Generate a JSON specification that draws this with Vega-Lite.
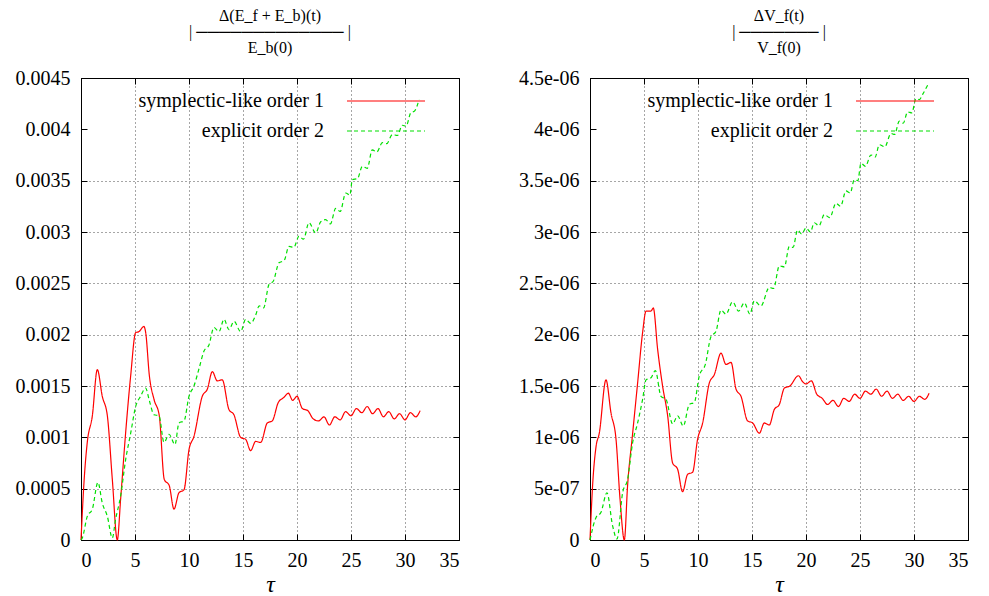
{
  "$schema": "https://vega.github.io/schema/vega-lite/v6.json",
  "background": "white",
  "padding": {"left": 14, "top": 7, "right": 10, "bottom": 0},
  "spacing": 131,
  "bounds": "flush",
  "config": {
    "font": "Liberation Serif",
    "view": {"stroke": "black", "strokeWidth": 1},
    "axis": {
      "domainColor": "black", "tickColor": "black", "tickSize": -6, "tickWidth": 1,
      "labelFont": "Liberation Serif", "labelFontSize": 20, "labelColor": "black",
      "titleFont": "Liberation Serif", "titleFontSize": 24, "titleFontStyle": "italic", "titleFontWeight": "normal", "titleColor": "black",
      "gridColor": "black", "gridDash": [1, 3], "gridWidth": 1
    },
    "legend": {
      "orient": "none", "legendX": 294, "legendY": 12, "padding": 0,
      "symbolType": "M-3.9,0H3.9", "symbolSize": 400, "symbolStrokeWidth": 1.2,
      "labelAlign": "right", "labelOffset": -73, "labelFont": "Liberation Serif", "labelFontSize": 20,
      "labelColor": "black", "labelLimit": 0, "rowPadding": 9, "title": null
    },
    "title": {"font": "Liberation Serif", "fontSize": 16, "fontWeight": "normal", "color": "black", "anchor": "middle", "frame": "group", "lineHeight": 16, "offset": 12}
  },
  "resolve": {"legend": {"color": "independent", "strokeDash": "independent"}, "scale": {"y": "independent"}},
  "datasets": {
    "left": [
      {"series": "symplectic-like order 1", "t": 0, "v": 0},
      {"series": "symplectic-like order 1", "t": 0.3, "v": 0.0006},
      {"series": "symplectic-like order 1", "t": 0.58, "v": 0.00095},
      {"series": "symplectic-like order 1", "t": 1.05, "v": 0.00121},
      {"series": "symplectic-like order 1", "t": 1.51, "v": 0.00166},
      {"series": "symplectic-like order 1", "t": 1.97, "v": 0.0014},
      {"series": "symplectic-like order 1", "t": 2.44, "v": 0.00121},
      {"series": "symplectic-like order 1", "t": 2.9, "v": 0.00059},
      {"series": "symplectic-like order 1", "t": 3.36, "v": 0},
      {"series": "symplectic-like order 1", "t": 3.67, "v": 0.0004},
      {"series": "symplectic-like order 1", "t": 4.13, "v": 0.00104},
      {"series": "symplectic-like order 1", "t": 4.6, "v": 0.0016},
      {"series": "symplectic-like order 1", "t": 5.06, "v": 0.00202},
      {"series": "symplectic-like order 1", "t": 5.37, "v": 0.00203},
      {"series": "symplectic-like order 1", "t": 5.83, "v": 0.00208},
      {"series": "symplectic-like order 1", "t": 5.99, "v": 0.00202},
      {"series": "symplectic-like order 1", "t": 6.33, "v": 0.0016},
      {"series": "symplectic-like order 1", "t": 6.76, "v": 0.00137},
      {"series": "symplectic-like order 1", "t": 7.25, "v": 0.00121},
      {"series": "symplectic-like order 1", "t": 7.71, "v": 0.00059},
      {"series": "symplectic-like order 1", "t": 8.17, "v": 0.00053},
      {"series": "symplectic-like order 1", "t": 8.61, "v": 0.0003},
      {"series": "symplectic-like order 1", "t": 9.07, "v": 0.00046},
      {"series": "symplectic-like order 1", "t": 9.54, "v": 0.00049},
      {"series": "symplectic-like order 1", "t": 10.0, "v": 0.00088},
      {"series": "symplectic-like order 1", "t": 10.46, "v": 0.00101},
      {"series": "symplectic-like order 1", "t": 11.23, "v": 0.0014},
      {"series": "symplectic-like order 1", "t": 11.7, "v": 0.00147},
      {"series": "symplectic-like order 1", "t": 12.16, "v": 0.00164},
      {"series": "symplectic-like order 1", "t": 12.62, "v": 0.00155},
      {"series": "symplectic-like order 1", "t": 13.08, "v": 0.00156},
      {"series": "symplectic-like order 1", "t": 13.7, "v": 0.00127},
      {"series": "symplectic-like order 1", "t": 14.16, "v": 0.00122},
      {"series": "symplectic-like order 1", "t": 14.78, "v": 0.001},
      {"series": "symplectic-like order 1", "t": 15.25, "v": 0.00098},
      {"series": "symplectic-like order 1", "t": 15.71, "v": 0.00087},
      {"series": "symplectic-like order 1", "t": 16.17, "v": 0.00096},
      {"series": "symplectic-like order 1", "t": 16.64, "v": 0.00095},
      {"series": "symplectic-like order 1", "t": 17.25, "v": 0.00114},
      {"series": "symplectic-like order 1", "t": 17.71, "v": 0.00116},
      {"series": "symplectic-like order 1", "t": 18.27, "v": 0.00134},
      {"series": "symplectic-like order 1", "t": 18.8, "v": 0.00139},
      {"series": "symplectic-like order 1", "t": 19.2, "v": 0.00143},
      {"series": "symplectic-like order 1", "t": 19.6, "v": 0.00136},
      {"series": "symplectic-like order 1", "t": 20.0, "v": 0.0014},
      {"series": "symplectic-like order 1", "t": 20.5, "v": 0.00128},
      {"series": "symplectic-like order 1", "t": 21.0, "v": 0.00126},
      {"series": "symplectic-like order 1", "t": 21.5, "v": 0.00118},
      {"series": "symplectic-like order 1", "t": 22.0, "v": 0.00116},
      {"series": "symplectic-like order 1", "t": 22.5, "v": 0.0012},
      {"series": "symplectic-like order 1", "t": 23.0, "v": 0.00112},
      {"series": "symplectic-like order 1", "t": 23.5, "v": 0.0012},
      {"series": "symplectic-like order 1", "t": 24.0, "v": 0.00117},
      {"series": "symplectic-like order 1", "t": 24.5, "v": 0.00125},
      {"series": "symplectic-like order 1", "t": 25.0, "v": 0.00121},
      {"series": "symplectic-like order 1", "t": 25.5, "v": 0.00128},
      {"series": "symplectic-like order 1", "t": 26.0, "v": 0.00124},
      {"series": "symplectic-like order 1", "t": 26.5, "v": 0.0013},
      {"series": "symplectic-like order 1", "t": 27.0, "v": 0.00123},
      {"series": "symplectic-like order 1", "t": 27.5, "v": 0.00128},
      {"series": "symplectic-like order 1", "t": 28.0, "v": 0.0012},
      {"series": "symplectic-like order 1", "t": 28.5, "v": 0.00125},
      {"series": "symplectic-like order 1", "t": 29.0, "v": 0.00118},
      {"series": "symplectic-like order 1", "t": 29.5, "v": 0.00123},
      {"series": "symplectic-like order 1", "t": 30.0, "v": 0.00117},
      {"series": "symplectic-like order 1", "t": 30.5, "v": 0.00124},
      {"series": "symplectic-like order 1", "t": 31.0, "v": 0.0012},
      {"series": "symplectic-like order 1", "t": 31.4, "v": 0.00126},
      {"series": "explicit order 2", "t": 0, "v": 0},
      {"series": "explicit order 2", "t": 0.12, "v": 0.00002},
      {"series": "explicit order 2", "t": 0.58, "v": 0.00023},
      {"series": "explicit order 2", "t": 1.05, "v": 0.0003},
      {"series": "explicit order 2", "t": 1.57, "v": 0.00056},
      {"series": "explicit order 2", "t": 1.97, "v": 0.00036},
      {"series": "explicit order 2", "t": 2.44, "v": 0.00023},
      {"series": "explicit order 2", "t": 2.9, "v": 0.00002},
      {"series": "explicit order 2", "t": 3.2, "v": 0.0002},
      {"series": "explicit order 2", "t": 3.67, "v": 0.00043},
      {"series": "explicit order 2", "t": 4.13, "v": 0.00078},
      {"series": "explicit order 2", "t": 4.6, "v": 0.00104},
      {"series": "explicit order 2", "t": 5.06, "v": 0.0013},
      {"series": "explicit order 2", "t": 5.52, "v": 0.0014},
      {"series": "explicit order 2", "t": 5.99, "v": 0.00148},
      {"series": "explicit order 2", "t": 6.3, "v": 0.00137},
      {"series": "explicit order 2", "t": 6.76, "v": 0.00122},
      {"series": "explicit order 2", "t": 7.22, "v": 0.00121},
      {"series": "explicit order 2", "t": 7.69, "v": 0.00095},
      {"series": "explicit order 2", "t": 8.15, "v": 0.00103},
      {"series": "explicit order 2", "t": 8.7, "v": 0.00093},
      {"series": "explicit order 2", "t": 9.07, "v": 0.00114},
      {"series": "explicit order 2", "t": 9.54, "v": 0.00116},
      {"series": "explicit order 2", "t": 10.0, "v": 0.0014},
      {"series": "explicit order 2", "t": 10.46, "v": 0.0015},
      {"series": "explicit order 2", "t": 10.93, "v": 0.00167},
      {"series": "explicit order 2", "t": 11.39, "v": 0.00184},
      {"series": "explicit order 2", "t": 11.85, "v": 0.0019},
      {"series": "explicit order 2", "t": 12.31, "v": 0.00207},
      {"series": "explicit order 2", "t": 12.78, "v": 0.00203},
      {"series": "explicit order 2", "t": 13.24, "v": 0.00215},
      {"series": "explicit order 2", "t": 13.7, "v": 0.00205},
      {"series": "explicit order 2", "t": 14.17, "v": 0.00213},
      {"series": "explicit order 2", "t": 14.78, "v": 0.00203},
      {"series": "explicit order 2", "t": 15.25, "v": 0.00215},
      {"series": "explicit order 2", "t": 15.71, "v": 0.00211},
      {"series": "explicit order 2", "t": 16.17, "v": 0.00219},
      {"series": "explicit order 2", "t": 16.5, "v": 0.00228},
      {"series": "explicit order 2", "t": 16.9, "v": 0.00226},
      {"series": "explicit order 2", "t": 17.41, "v": 0.00249},
      {"series": "explicit order 2", "t": 17.8, "v": 0.00252},
      {"series": "explicit order 2", "t": 18.33, "v": 0.0027},
      {"series": "explicit order 2", "t": 18.8, "v": 0.00272},
      {"series": "explicit order 2", "t": 19.26, "v": 0.00286},
      {"series": "explicit order 2", "t": 19.7, "v": 0.00285},
      {"series": "explicit order 2", "t": 20.19, "v": 0.00296},
      {"series": "explicit order 2", "t": 20.6, "v": 0.00293},
      {"series": "explicit order 2", "t": 21.11, "v": 0.00309},
      {"series": "explicit order 2", "t": 21.73, "v": 0.00299},
      {"series": "explicit order 2", "t": 22.2, "v": 0.0031},
      {"series": "explicit order 2", "t": 22.65, "v": 0.00312},
      {"series": "explicit order 2", "t": 23.1, "v": 0.00308},
      {"series": "explicit order 2", "t": 23.58, "v": 0.00323},
      {"series": "explicit order 2", "t": 24.0, "v": 0.0032},
      {"series": "explicit order 2", "t": 24.51, "v": 0.00338},
      {"series": "explicit order 2", "t": 24.9, "v": 0.00336},
      {"series": "explicit order 2", "t": 25.12, "v": 0.00351},
      {"series": "explicit order 2", "t": 25.6, "v": 0.00352},
      {"series": "explicit order 2", "t": 26.05, "v": 0.00364},
      {"series": "explicit order 2", "t": 26.5, "v": 0.00362},
      {"series": "explicit order 2", "t": 26.97, "v": 0.0038},
      {"series": "explicit order 2", "t": 27.4, "v": 0.00378},
      {"series": "explicit order 2", "t": 27.9, "v": 0.00387},
      {"series": "explicit order 2", "t": 28.3, "v": 0.00386},
      {"series": "explicit order 2", "t": 28.83, "v": 0.00395},
      {"series": "explicit order 2", "t": 29.3, "v": 0.00394},
      {"series": "explicit order 2", "t": 29.75, "v": 0.00404},
      {"series": "explicit order 2", "t": 30.1, "v": 0.00403},
      {"series": "explicit order 2", "t": 30.53, "v": 0.00416},
      {"series": "explicit order 2", "t": 30.9, "v": 0.00418},
      {"series": "explicit order 2", "t": 31.3, "v": 0.00429}
    ],
    "right": [
      {"series": "symplectic-like order 1", "t": 0, "v": 0},
      {"series": "symplectic-like order 1", "t": 0.24, "v": 5.3e-7},
      {"series": "symplectic-like order 1", "t": 0.56, "v": 9.1e-7},
      {"series": "symplectic-like order 1", "t": 0.86, "v": 1.04e-6},
      {"series": "symplectic-like order 1", "t": 1.48, "v": 1.56e-6},
      {"series": "symplectic-like order 1", "t": 1.94, "v": 1.24e-6},
      {"series": "symplectic-like order 1", "t": 2.41, "v": 9.8e-7},
      {"series": "symplectic-like order 1", "t": 2.78, "v": 4.0e-7},
      {"series": "symplectic-like order 1", "t": 3.18, "v": 0},
      {"series": "symplectic-like order 1", "t": 3.48, "v": 5.3e-7},
      {"series": "symplectic-like order 1", "t": 3.95, "v": 1.04e-6},
      {"series": "symplectic-like order 1", "t": 4.41, "v": 1.53e-6},
      {"series": "symplectic-like order 1", "t": 4.87, "v": 2.02e-6},
      {"series": "symplectic-like order 1", "t": 5.19, "v": 2.23e-6},
      {"series": "symplectic-like order 1", "t": 5.65, "v": 2.23e-6},
      {"series": "symplectic-like order 1", "t": 5.86, "v": 2.26e-6},
      {"series": "symplectic-like order 1", "t": 6.26, "v": 1.86e-6},
      {"series": "symplectic-like order 1", "t": 6.72, "v": 1.5e-6},
      {"series": "symplectic-like order 1", "t": 7.19, "v": 1.21e-6},
      {"series": "symplectic-like order 1", "t": 7.65, "v": 7.5e-7},
      {"series": "symplectic-like order 1", "t": 8.11, "v": 6.9e-7},
      {"series": "symplectic-like order 1", "t": 8.57, "v": 4.7e-7},
      {"series": "symplectic-like order 1", "t": 9.04, "v": 6.4e-7},
      {"series": "symplectic-like order 1", "t": 9.5, "v": 6.6e-7},
      {"series": "symplectic-like order 1", "t": 9.96, "v": 9.8e-7},
      {"series": "symplectic-like order 1", "t": 10.43, "v": 1.14e-6},
      {"series": "symplectic-like order 1", "t": 11.05, "v": 1.53e-6},
      {"series": "symplectic-like order 1", "t": 11.51, "v": 1.61e-6},
      {"series": "symplectic-like order 1", "t": 12.13, "v": 1.82e-6},
      {"series": "symplectic-like order 1", "t": 12.59, "v": 1.71e-6},
      {"series": "symplectic-like order 1", "t": 13.06, "v": 1.73e-6},
      {"series": "symplectic-like order 1", "t": 13.52, "v": 1.47e-6},
      {"series": "symplectic-like order 1", "t": 13.98, "v": 1.4e-6},
      {"series": "symplectic-like order 1", "t": 14.59, "v": 1.16e-6},
      {"series": "symplectic-like order 1", "t": 15.06, "v": 1.14e-6},
      {"series": "symplectic-like order 1", "t": 15.68, "v": 1.04e-6},
      {"series": "symplectic-like order 1", "t": 16.14, "v": 1.14e-6},
      {"series": "symplectic-like order 1", "t": 16.6, "v": 1.12e-6},
      {"series": "symplectic-like order 1", "t": 17.06, "v": 1.27e-6},
      {"series": "symplectic-like order 1", "t": 17.53, "v": 1.32e-6},
      {"series": "symplectic-like order 1", "t": 18.0, "v": 1.48e-6},
      {"series": "symplectic-like order 1", "t": 18.5, "v": 1.5e-6},
      {"series": "symplectic-like order 1", "t": 19.3, "v": 1.6e-6},
      {"series": "symplectic-like order 1", "t": 19.7, "v": 1.54e-6},
      {"series": "symplectic-like order 1", "t": 20.0, "v": 1.52e-6},
      {"series": "symplectic-like order 1", "t": 20.5, "v": 1.55e-6},
      {"series": "symplectic-like order 1", "t": 21.0, "v": 1.42e-6},
      {"series": "symplectic-like order 1", "t": 21.5, "v": 1.38e-6},
      {"series": "symplectic-like order 1", "t": 22.0, "v": 1.32e-6},
      {"series": "symplectic-like order 1", "t": 22.5, "v": 1.36e-6},
      {"series": "symplectic-like order 1", "t": 23.0, "v": 1.3e-6},
      {"series": "symplectic-like order 1", "t": 23.5, "v": 1.38e-6},
      {"series": "symplectic-like order 1", "t": 24.0, "v": 1.35e-6},
      {"series": "symplectic-like order 1", "t": 24.5, "v": 1.42e-6},
      {"series": "symplectic-like order 1", "t": 25.0, "v": 1.38e-6},
      {"series": "symplectic-like order 1", "t": 25.5, "v": 1.45e-6},
      {"series": "symplectic-like order 1", "t": 26.0, "v": 1.42e-6},
      {"series": "symplectic-like order 1", "t": 26.5, "v": 1.47e-6},
      {"series": "symplectic-like order 1", "t": 27.0, "v": 1.4e-6},
      {"series": "symplectic-like order 1", "t": 27.5, "v": 1.45e-6},
      {"series": "symplectic-like order 1", "t": 28.0, "v": 1.38e-6},
      {"series": "symplectic-like order 1", "t": 28.5, "v": 1.42e-6},
      {"series": "symplectic-like order 1", "t": 29.0, "v": 1.36e-6},
      {"series": "symplectic-like order 1", "t": 29.5, "v": 1.4e-6},
      {"series": "symplectic-like order 1", "t": 30.0, "v": 1.35e-6},
      {"series": "symplectic-like order 1", "t": 30.5, "v": 1.4e-6},
      {"series": "symplectic-like order 1", "t": 31.0, "v": 1.37e-6},
      {"series": "symplectic-like order 1", "t": 31.4, "v": 1.43e-6},
      {"series": "explicit order 2", "t": 0, "v": 0},
      {"series": "explicit order 2", "t": 0.56, "v": 2.2e-7},
      {"series": "explicit order 2", "t": 1.02, "v": 2.7e-7},
      {"series": "explicit order 2", "t": 1.57, "v": 4.6e-7},
      {"series": "explicit order 2", "t": 2.09, "v": 1.4e-7},
      {"series": "explicit order 2", "t": 2.5, "v": 1e-8},
      {"series": "explicit order 2", "t": 3.02, "v": 4.6e-7},
      {"series": "explicit order 2", "t": 3.48, "v": 5.9e-7},
      {"series": "explicit order 2", "t": 3.95, "v": 9.5e-7},
      {"series": "explicit order 2", "t": 4.41, "v": 1.14e-6},
      {"series": "explicit order 2", "t": 4.87, "v": 1.37e-6},
      {"series": "explicit order 2", "t": 5.19, "v": 1.56e-6},
      {"series": "explicit order 2", "t": 5.65, "v": 1.58e-6},
      {"series": "explicit order 2", "t": 6.05, "v": 1.65e-6},
      {"series": "explicit order 2", "t": 6.57, "v": 1.4e-6},
      {"series": "explicit order 2", "t": 7.04, "v": 1.37e-6},
      {"series": "explicit order 2", "t": 7.65, "v": 1.13e-6},
      {"series": "explicit order 2", "t": 8.11, "v": 1.21e-6},
      {"series": "explicit order 2", "t": 8.64, "v": 1.11e-6},
      {"series": "explicit order 2", "t": 9.19, "v": 1.32e-6},
      {"series": "explicit order 2", "t": 9.66, "v": 1.34e-6},
      {"series": "explicit order 2", "t": 10.12, "v": 1.6e-6},
      {"series": "explicit order 2", "t": 10.68, "v": 1.71e-6},
      {"series": "explicit order 2", "t": 11.2, "v": 1.98e-6},
      {"series": "explicit order 2", "t": 11.66, "v": 2.03e-6},
      {"series": "explicit order 2", "t": 12.13, "v": 2.24e-6},
      {"series": "explicit order 2", "t": 12.59, "v": 2.2e-6},
      {"series": "explicit order 2", "t": 13.2, "v": 2.32e-6},
      {"series": "explicit order 2", "t": 13.76, "v": 2.23e-6},
      {"series": "explicit order 2", "t": 14.29, "v": 2.31e-6},
      {"series": "explicit order 2", "t": 14.81, "v": 2.2e-6},
      {"series": "explicit order 2", "t": 15.21, "v": 2.33e-6},
      {"series": "explicit order 2", "t": 15.83, "v": 2.28e-6},
      {"series": "explicit order 2", "t": 16.6, "v": 2.46e-6},
      {"series": "explicit order 2", "t": 17.0, "v": 2.45e-6},
      {"series": "explicit order 2", "t": 17.53, "v": 2.67e-6},
      {"series": "explicit order 2", "t": 18.0, "v": 2.66e-6},
      {"series": "explicit order 2", "t": 18.45, "v": 2.86e-6},
      {"series": "explicit order 2", "t": 18.8, "v": 2.85e-6},
      {"series": "explicit order 2", "t": 19.22, "v": 3.02e-6},
      {"series": "explicit order 2", "t": 19.6, "v": 2.98e-6},
      {"series": "explicit order 2", "t": 20.0, "v": 3.04e-6},
      {"series": "explicit order 2", "t": 20.4, "v": 3.0e-6},
      {"series": "explicit order 2", "t": 20.77, "v": 3.09e-6},
      {"series": "explicit order 2", "t": 21.2, "v": 3.06e-6},
      {"series": "explicit order 2", "t": 21.7, "v": 3.17e-6},
      {"series": "explicit order 2", "t": 22.2, "v": 3.14e-6},
      {"series": "explicit order 2", "t": 22.78, "v": 3.28e-6},
      {"series": "explicit order 2", "t": 23.2, "v": 3.25e-6},
      {"series": "explicit order 2", "t": 23.7, "v": 3.4e-6},
      {"series": "explicit order 2", "t": 24.1, "v": 3.38e-6},
      {"series": "explicit order 2", "t": 24.47, "v": 3.51e-6},
      {"series": "explicit order 2", "t": 24.8, "v": 3.5e-6},
      {"series": "explicit order 2", "t": 25.09, "v": 3.67e-6},
      {"series": "explicit order 2", "t": 25.5, "v": 3.64e-6},
      {"series": "explicit order 2", "t": 26.02, "v": 3.75e-6},
      {"series": "explicit order 2", "t": 26.4, "v": 3.73e-6},
      {"series": "explicit order 2", "t": 26.79, "v": 3.85e-6},
      {"series": "explicit order 2", "t": 27.3, "v": 3.83e-6},
      {"series": "explicit order 2", "t": 27.87, "v": 3.96e-6},
      {"series": "explicit order 2", "t": 28.2, "v": 3.95e-6},
      {"series": "explicit order 2", "t": 28.64, "v": 4.08e-6},
      {"series": "explicit order 2", "t": 29.0, "v": 4.06e-6},
      {"series": "explicit order 2", "t": 29.41, "v": 4.17e-6},
      {"series": "explicit order 2", "t": 29.8, "v": 4.16e-6},
      {"series": "explicit order 2", "t": 30.18, "v": 4.3e-6},
      {"series": "explicit order 2", "t": 30.5, "v": 4.29e-6},
      {"series": "explicit order 2", "t": 30.8, "v": 4.34e-6},
      {"series": "explicit order 2", "t": 31.26, "v": 4.43e-6}
    ]
  },
  "hconcat": [
    {
      "width": 378, "height": 462,
      "data": {"name": "left"},
      "title": {"text": ["Δ(E_f + E_b)(t)", "| ───────────── |", "E_b(0)"]},
      "layer": [
        {
          "mark": {"type": "line", "strokeWidth": 1.2, "interpolate": "monotone"},
          "encoding": {
            "x": {"field": "t", "type": "quantitative", "scale": {"domain": [0, 35], "nice": false},
                  "axis": {"values": [0, 5, 10, 15, 20, 25, 30, 35], "title": "τ", "labelPadding": 16, "titlePadding": 2, "grid": true, "gridOpacity": 0.7}},
            "y": {"field": "v", "type": "quantitative", "scale": {"domain": [0, 0.0045], "nice": false},
                  "axis": {"values": [0, 0.0005, 0.001, 0.0015, 0.002, 0.0025, 0.003, 0.0035, 0.004, 0.0045], "format": "~g", "title": null, "labelPadding": 17, "grid": true,
                           "gridOpacity": {"condition": {"test": "datum.value > 0.0039", "value": 0}, "value": 0.7}}},
            "color": {"field": "series", "type": "nominal", "sort": ["symplectic-like order 1", "explicit order 2"],
                      "scale": {"domain": ["symplectic-like order 1", "explicit order 2"], "range": ["#ff0000", "#00e000"]}},
            "strokeDash": {"field": "series", "type": "nominal", "sort": ["symplectic-like order 1", "explicit order 2"],
                           "scale": {"domain": ["symplectic-like order 1", "explicit order 2"], "range": [[1, 0], [4, 3]]}}
          }
        },
        {
          "mark": {"type": "line", "opacity": 0},
          "encoding": {
            "x": {"field": "t", "type": "quantitative", "axis": {"orient": "top", "values": [0, 5, 10, 15, 20, 25, 30, 35], "labels": false, "title": null, "grid": false, "domain": false}},
            "y": {"field": "v", "type": "quantitative", "axis": {"orient": "right", "values": [0, 0.0005, 0.001, 0.0015, 0.002, 0.0025, 0.003, 0.0035, 0.004, 0.0045], "labels": false, "title": null, "grid": false, "domain": false}},
            "detail": {"field": "series"}
          }
        }
      ],
      "resolve": {"axis": {"x": "independent", "y": "independent"}}
    },
    {
      "width": 378, "height": 462,
      "data": {"name": "right"},
      "title": {"text": ["ΔV_f(t)", "| ─────── |", "V_f(0)"]},
      "layer": [
        {
          "mark": {"type": "line", "strokeWidth": 1.2, "interpolate": "monotone"},
          "encoding": {
            "x": {"field": "t", "type": "quantitative", "scale": {"domain": [0, 35], "nice": false},
                  "axis": {"values": [0, 5, 10, 15, 20, 25, 30, 35], "title": "τ", "labelPadding": 16, "titlePadding": 2, "grid": true, "gridOpacity": 0.7}},
            "y": {"field": "v", "type": "quantitative", "scale": {"domain": [0, 4.5e-6], "nice": false},
                  "axis": {"values": [0, 5e-7, 1e-6, 1.5e-6, 2e-6, 2.5e-6, 3e-6, 3.5e-6, 4e-6, 4.5e-6], "labelExpr": "datum.value == 0 ? '0' : replace(format(datum.value, '~e'), 'e-', 'e-0')", "title": null, "labelPadding": 17, "grid": true,
                           "gridOpacity": {"condition": {"test": "datum.value > 3.9e-6", "value": 0}, "value": 0.7}}},
            "color": {"field": "series", "type": "nominal", "sort": ["symplectic-like order 1", "explicit order 2"],
                      "scale": {"domain": ["symplectic-like order 1", "explicit order 2"], "range": ["#ff0000", "#00e000"]}},
            "strokeDash": {"field": "series", "type": "nominal", "sort": ["symplectic-like order 1", "explicit order 2"],
                           "scale": {"domain": ["symplectic-like order 1", "explicit order 2"], "range": [[1, 0], [4, 3]]}}
          }
        },
        {
          "mark": {"type": "line", "opacity": 0},
          "encoding": {
            "x": {"field": "t", "type": "quantitative", "axis": {"orient": "top", "values": [0, 5, 10, 15, 20, 25, 30, 35], "labels": false, "title": null, "grid": false, "domain": false}},
            "y": {"field": "v", "type": "quantitative", "axis": {"orient": "right", "values": [0, 5e-7, 1e-6, 1.5e-6, 2e-6, 2.5e-6, 3e-6, 3.5e-6, 4e-6, 4.5e-6], "labels": false, "title": null, "grid": false, "domain": false}},
            "detail": {"field": "series"}
          }
        }
      ],
      "resolve": {"axis": {"x": "independent", "y": "independent"}}
    }
  ]
}
